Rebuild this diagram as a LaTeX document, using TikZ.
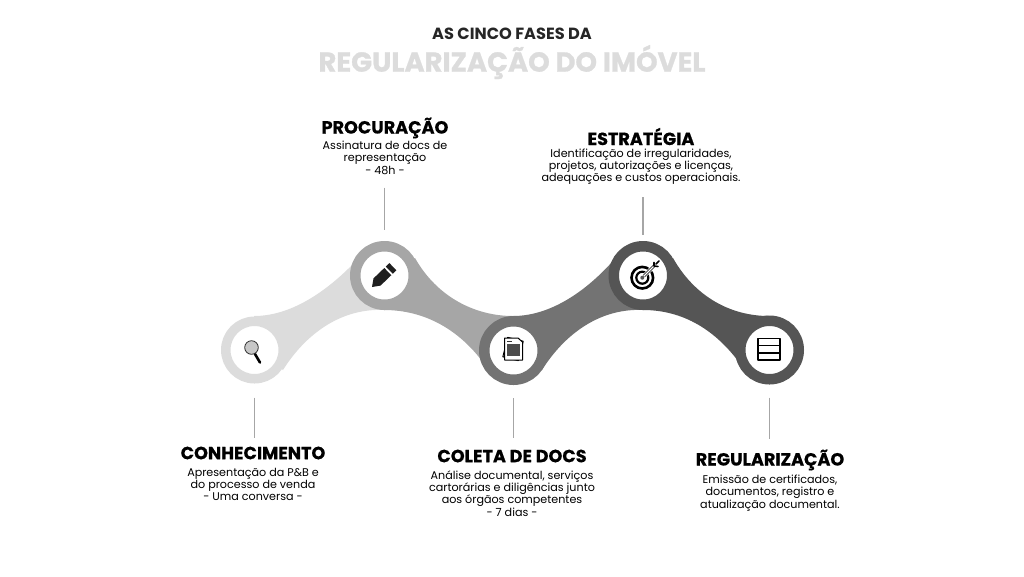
\documentclass[tikz,border=0pt]{standalone}
\usepackage{fontspec}
\setmainfont{Poppins}
\usetikzlibrary{positioning}
\definecolor{toneA}{HTML}{DCDCDC}
\definecolor{toneB}{HTML}{A6A6A6}
\definecolor{toneC}{HTML}{737373}
\definecolor{toneD}{HTML}{555555}
\tikzset{
	phase/.style={circle,fill=white,draw=#1,line width=10.5pt,minimum size=58.5pt,inner sep=0pt},
	head/.style={inner sep=0pt,font=\fontsize{17.6}{19}\selectfont\bfseries\addfontfeature{FakeBold=.5}},
	body/.style={inner sep=0pt,align=center,font=\fontsize{11.15}{12.2}\selectfont},
	leader/.style={draw=toneB,line width=1.7pt,line cap=butt},
}
\begin{document}
\begin{tikzpicture}[x=1pt,y=-1pt,line join=round,line cap=round]
	\useasboundingbox (0,0) rectangle (1024,576);
	% title
	\node[inner sep=0pt,font=\fontsize{16.2}{18}\selectfont\bfseries,text=black!85] (titleA) at (512,34) {AS CINCO FASES DA};
	\node[inner sep=0pt,font=\fontsize{27.4}{29}\selectfont\bfseries\addfontfeature{FakeBold=1},text=toneA] (titleB) at (512,62) {REGULARIZAÇÃO DO IMÓVEL};
	% links
	\fill[toneA] (254,316) .. controls (290,316) and (325,293) .. (355,262) -- (385,275) -- (384,310) .. controls (340,308) and (305,335) .. (283,370) -- (254,350) -- cycle;
	\fill[toneB] (415,258) .. controls (437,297) and (475,316) .. (513,316) -- (513,350) -- (485,365) .. controls (460,330) and (425,310) .. (384,310) -- (385,275) -- cycle;
	\fill[toneC] (513,316) .. controls (549,316) and (584,293) .. (612,262) -- (643,275) -- (643,310) .. controls (599,308) and (564,335) .. (542,370) -- (513,350) -- cycle;
	\fill[toneD] (673,258) .. controls (695,297) and (731,316) .. (769,316) -- (769,350) -- (741,365) .. controls (716,330) and (683,310) .. (643,310) -- (643,275) -- cycle;
	% phases
	\node[phase=toneA,line width=9.5pt,minimum size=57.5pt] (know) at (254.5,350) {};
	\node[phase=toneB] (proxy) at (384.5,275.5) {};
	\node[phase=toneC] (collect) at (513.5,350.5) {};
	\node[phase=toneD] (plan) at (643,275.5) {};
	\node[phase=toneD] (regul) at (769.5,350) {};
	% texts
	\node[head] (knowH) at (253,453) {CONHECIMENTO};
	\node[body,below=8.5pt of knowH] (knowT) {Apresentação da P\&B e\\do processo de venda\\- Uma conversa -};
	\node[head] (proxyH) at (385,128) {PROCURAÇÃO};
	\node[body,below=2.5pt of proxyH] (proxyT) {Assinatura de docs de\\representação\\- 48h -};
	\node[head] (collectH) at (512,456) {COLETA DE DOCS};
	\node[body,below=8pt of collectH] (collectT) {Análise documental, serviços\\cartorárias e diligências junto\\aos órgãos competentes\\- 7 dias -};
	\node[head] (planH) at (641,136.5) {ESTRATÉGIA};
	\node[body,below=3.5pt of planH] (planT) {Identificação de irregularidades,\\projetos, autorizações e licenças,\\adequações e custos operacionais.};
	\node[head] (regulH) at (770,460) {REGULARIZAÇÃO};
	\node[body,below=4.5pt of regulH] (regulT) {Emissão de certificados,\\documentos, registro e\\atualização documental.};
	% leaders
	\draw[leader,shorten <=14pt,shorten >=8pt] (know.south) -- (know.south |- knowH.north);
	\draw[leader,shorten <=13pt,shorten >=11pt] (proxy.north |- proxyT.south) -- (proxy.north);
	\draw[leader,shorten <=13pt,shorten >=11pt] (collect.south) -- (collect.south |- collectH.north);
	\draw[leader,shorten <=12pt,shorten >=6pt] (plan.north |- planT.south) -- (plan.north);
	\draw[leader,shorten <=13pt,shorten >=11pt] (regul.south) -- (regul.south |- regulH.north);
	% magnifier
	\draw[black,line width=2.6pt] (255,354) -- (260,362.5);
	\draw[black!80,fill=black!22,line width=.8pt] (251.5,347.5) circle (6.8);
	% pencil
	\fill[black!88] (372,287) -- (373.5,278.4) -- (384.3,268) -- (391.3,275.2) -- (380.5,285.6) -- cycle;
	\fill[black!88] (385.8,266.6) -- (389.4,263.1) -- (396.4,270.3) -- (392.8,273.8) -- cycle;
	% papers
	\begin{scope}[shift={(513,349)}]
		\draw[black,fill=white,line width=1pt,rotate=-14] (-8,-10) rectangle (8,10);
		\draw[black,fill=white,line width=1pt] (-8.5,-11) -- (5,-11) -- (9.5,-7) -- (9.5,11) -- (-8.5,11) -- cycle;
		\foreach \ly in {-4,-2,0,2,4,6}
			\draw[black!70,line width=1.1pt,line cap=butt] (-6,\ly) -- (7,\ly);
		\draw[black!80,line width=1pt,line cap=butt] (-6,-8) -- (-1,-8);
	\end{scope}
	% target
	\draw[black,line width=2.6pt] (642.3,277.7) circle (10.8);
	\draw[black,line width=2.2pt] (642.3,277.7) circle (6);
	\fill[black!65] (642.3,277.7) circle (2);
	\draw[white,line width=4pt,line cap=butt] (644,276) -- (653,267);
	\draw[black,line width=2.8pt,line cap=butt] (644,276) -- (654,266);
	\draw[white,line width=1.2pt,line cap=butt] (644,276) -- (654,266);
	\draw[black,line width=1.6pt] (654,266) -- (654,262.5) (654,266) -- (658,266.5) (656,264) -- (659,261);
	% rows
	\draw[black,line width=1.8pt] (758,338.5) rectangle (780,360);
	\draw[black,line width=1.8pt] (758,345.5) -- (780,345.5) (758,352.8) -- (780,352.8);
\end{tikzpicture}
\end{document}
